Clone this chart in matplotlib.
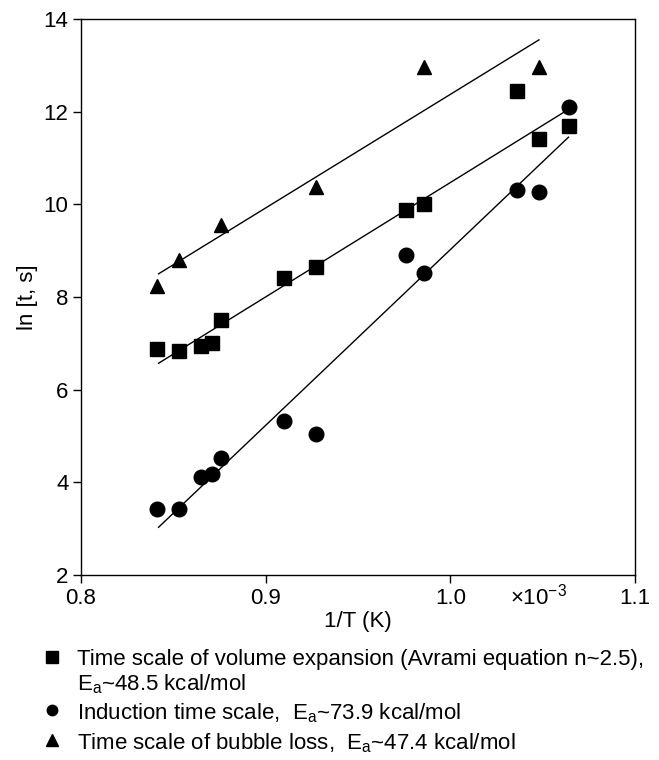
import numpy as np
import matplotlib.pyplot as plt

plt.rcParams['font.family'] = ['Liberation Sans', 'DejaVu Sans']

# 1/T in units of 1e-3 K^-1
sq_x = [0.841, 0.853, 0.865, 0.871, 0.876, 0.910, 0.927, 0.976, 0.986, 1.036, 1.048, 1.064]
sq_y = [6.88, 6.83, 6.94, 7.00, 7.50, 8.40, 8.65, 9.87, 10.00, 12.45, 11.42, 11.70]
ci_x = [0.841, 0.853, 0.865, 0.871, 0.876, 0.910, 0.927, 0.976, 0.986, 1.036, 1.048, 1.064]
ci_y = [3.42, 3.42, 4.12, 4.19, 4.52, 5.32, 5.04, 8.90, 8.52, 10.30, 10.27, 12.10]
tr_x = [0.841, 0.853, 0.876, 0.927, 0.986, 1.048]
tr_y = [8.24, 8.80, 9.55, 10.37, 12.97, 12.97]

# fitted lines (end points)
sq_fit_x, sq_fit_y = [0.842, 1.064], [6.57, 12.05]
ci_fit_x, ci_fit_y = [0.842, 1.064], [3.03, 11.45]
tr_fit_x, tr_fit_y = [0.842, 1.048], [8.50, 13.55]

legend_labels = [
    'Time scale of volume expansion (Avrami equation n~2.5),\n$\\mathregular{E_a}$~48.5 kcal/mol',
    'Induction time scale,  $\\mathregular{E_a}$~73.9 kcal/mol',
    'Time scale of bubble loss,  $\\mathregular{E_a}$~47.4 kcal/mol',
]

fig = plt.figure(figsize=(6.59, 7.60), dpi=100)
ax = fig.add_axes([81/659, 1-575/760, 554/659, 556/760])

ax.plot(sq_fit_x, sq_fit_y, color='black', lw=1)
ax.plot(ci_fit_x, ci_fit_y, color='black', lw=1)
ax.plot(tr_fit_x, tr_fit_y, color='black', lw=1)
ax.plot(sq_x, sq_y, 's', color='black', ms=9.5, ls='none')
ax.plot(ci_x, ci_y, 'o', color='black', ms=10.5, ls='none')
ax.plot(tr_x, tr_y, '^', color='black', ms=10.5, ls='none')

ax.set_xlim(0.8, 1.1)
ax.set_ylim(2, 14)
ax.set_xticks([0.8, 0.9, 1.0, 1.1])
ax.set_xticklabels(['0.8', '0.9', '1.0', '1.1'])
ax.set_yticks([2, 4, 6, 8, 10, 12, 14])
ax.tick_params(direction='out', length=6, width=1, labelsize=16, pad=3,
               top=False, right=False)
for s in ax.spines.values():
    s.set_linewidth(1)
ax.set_xlabel('1/T (K)', fontsize=16, labelpad=2)
ax.set_ylabel('ln [t, s]', fontsize=16, labelpad=4)
ax.annotate('$\\mathregular{\\times 10^{-3}}$', xy=(1.048, 0), xycoords=('data', 'axes fraction'),
            xytext=(0, -21), textcoords='offset points', ha='center', va='baseline', fontsize=16)

# legend drawn below the axes
markers = ['s', 'o', '^']
marker_sizes = [8, 7.5, 8.5]
ys = [657, 710, 740]
line_step = 24
for m, ms, y, lab in zip(markers, marker_sizes, ys, legend_labels):
    fig.lines.append(plt.Line2D([52/659], [1-y/760], marker=m, color='black', ms=ms,
                                ls='none', transform=fig.transFigure))
    for i, part in enumerate(lab.split('\n')):
        fig.text(77/659, 1-(y + i*line_step)/760, part, fontsize=16, va='center_baseline')

fig.savefig('out.png', dpi=100)
